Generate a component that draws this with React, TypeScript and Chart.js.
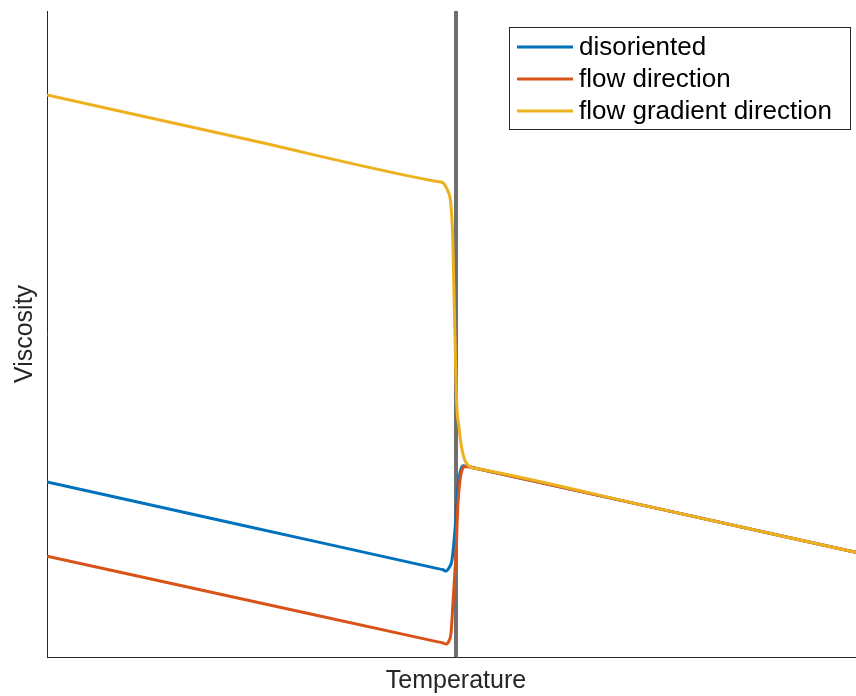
import React, { useEffect, useRef } from "react";
import { Chart, registerables } from "chart.js";

Chart.register(...registerables);

const xTitle = "Temperature";
const yTitle = "Viscosity";
const seriesNames = ["disoriented", "flow direction", "flow gradient direction"];
const seriesColors = ["#0072BD", "#D95319", "#EDB120"];
const transitionT = 50;
const tMin = 0;
const tMax = 100;
const vMin = 0;
const vMax = 100;

const disorientedT = [0, 24, 47.5, 48.41, 48.78, 49.14, 49.51, 49.88, 50.12, 50.24, 50.49, 50.86, 51.71, 52.5, 75, 100];
const disorientedV = [27.1, 20.36, 13.76, 13.5, 13.3, 13.8, 15.0, 19.7, 24.3, 26.3, 28.5, 29.6, 29.4, 29.18, 22.89, 15.9];

const flowT = [0, 24, 47.5, 48.41, 48.78, 49.14, 49.39, 49.63, 49.88, 50.0, 50.24, 50.49, 50.73, 50.98, 51.71, 52.5, 75, 100];
const flowV = [15.6, 8.94, 2.42, 2.17, 2.0, 2.5, 3.7, 8.4, 13.5, 16.1, 23.8, 27.4, 28.9, 29.5, 29.4, 29.18, 22.89, 15.9];

const gradientT = [0, 24, 47.5, 48.41, 48.66, 49.02, 49.35, 49.6, 49.69, 49.82, 49.94, 50.06, 50.37, 50.7, 51.1, 51.71, 52.5, 75, 100];
const gradientV = [87.0, 80.26, 73.65, 73.4, 73.0, 72.1, 70.3, 65.0, 59.9, 52.5, 46.0, 39.8, 35.5, 32.3, 30.4, 29.4, 29.18, 22.89, 15.9];

const FONT = "'Liberation Sans', Arial, Helvetica, sans-serif";

const toPoints = (xs: number[], ys: number[]) => xs.map((x, i) => ({ x, y: ys[i] }));

const legendPlugin = {
  id: "boxLegend",
  afterDraw(chart: any) {
    const ctx = chart.ctx;
    const boxL = 509.5, boxT = 27.5, boxR = 850.5, boxB = 129.5;
    ctx.save();
    ctx.fillStyle = "#ffffff";
    ctx.fillRect(boxL, boxT, boxR - boxL, boxB - boxT);
    ctx.strokeStyle = "#262626";
    ctx.lineWidth = 1;
    ctx.strokeRect(boxL, boxT, boxR - boxL, boxB - boxT);
    const rows = [47, 79, 111];
    seriesNames.forEach((name, i) => {
      const d = chart.data.datasets.find((ds: any) => ds.label === name);
      if (!d) return;
      const y = rows[i];
      ctx.strokeStyle = d.borderColor;
      ctx.lineWidth = 3;
      ctx.beginPath();
      ctx.moveTo(517, y);
      ctx.lineTo(573, y);
      ctx.stroke();
      ctx.fillStyle = "#000000";
      ctx.font = `26px ${FONT}`;
      ctx.textBaseline = "middle";
      ctx.textAlign = "left";
      ctx.fillText(name, 579, y + 1);
    });
    ctx.restore();
  },
};

export default function App() {
  const ref = useRef<HTMLCanvasElement | null>(null);

  useEffect(() => {
    if (!ref.current) return;
    const line = (label: string, color: string, xs: number[], ys: number[], order: number) =>
      ({
        label,
        data: toPoints(xs, ys),
        borderColor: color,
        borderWidth: 3,
        pointRadius: 0,
        cubicInterpolationMode: "monotone",
        fill: false,
        order,
      } as any);
    const chart = new Chart(ref.current, {
      type: "line",
      data: {
        datasets: [
          line(seriesNames[2], seriesColors[2], gradientT, gradientV, 0),
          line(seriesNames[1], seriesColors[1], flowT, flowV, 1),
          line(seriesNames[0], seriesColors[0], disorientedT, disorientedV, 2),
          {
            label: "transition",
            data: [
              { x: transitionT, y: vMin },
              { x: transitionT, y: vMax },
            ],
            borderColor: "#6f6f6f",
            borderWidth: 4,
            pointRadius: 0,
            fill: false,
            order: 3,
          } as any,
        ],
      },
      options: {
        animation: false,
        responsive: false,
        layout: { padding: { top: 11, left: 0, right: 0, bottom: 0 } },
        plugins: {
          legend: { display: false },
          tooltip: { enabled: false },
        },
        scales: {
          x: {
            type: "linear",
            min: tMin,
            max: tMax,
            ticks: { display: false },
            grid: { display: false },
            border: { display: true, color: "#262626", width: 1 },
            title: {
              display: true,
              text: xTitle,
              color: "#262626",
              font: { family: FONT, size: 25, lineHeight: 1 },
              padding: { top: 0, bottom: 2.5 },
            },
            afterFit: (s: any) => {
              s.height = 39;
            },
          },
          y: {
            type: "linear",
            min: vMin,
            max: vMax,
            ticks: { display: false },
            grid: { display: false },
            border: { display: true, color: "#262626", width: 1 },
            title: {
              display: true,
              text: yTitle,
              color: "#262626",
              font: { family: FONT, size: 25, lineHeight: 1 },
              padding: { top: 12.5, bottom: 0 },
            },
            afterFit: (s: any) => {
              s.width = 47;
            },
          },
        },
      } as any,
      plugins: [legendPlugin],
    });
    return () => chart.destroy();
  }, []);

  return (
    <div
      style={{
        position: "fixed",
        left: 0,
        top: 0,
        width: 856,
        height: 696,
        overflow: "hidden",
        background: "#ffffff",
      }}
    >
      <canvas ref={ref} width={865} height={696} style={{ display: "block" }} />
    </div>
  );
}
